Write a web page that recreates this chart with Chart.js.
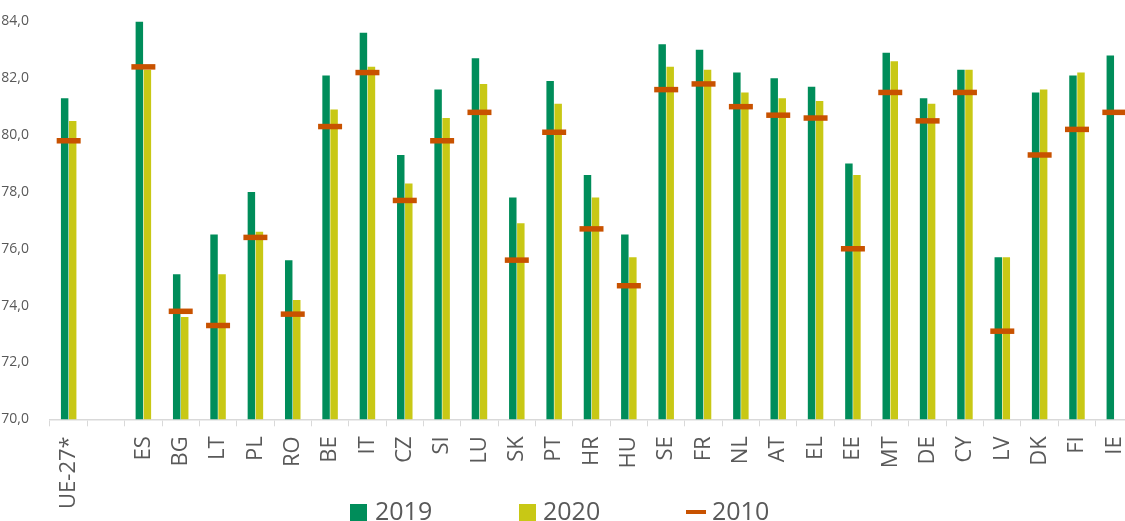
<!DOCTYPE html>
<html>
<head>
<meta charset="utf-8">
<script src="https://cdn.jsdelivr.net/npm/chart.js@4/dist/chart.umd.min.js"></script>
<style>
  html, body { margin: 0; padding: 0; background: #fff; overflow: hidden; }
  #wrap { position: relative; width: 1125px; height: 521px; overflow: hidden; }
  #c { position: absolute; left: 0; top: 0; width: 1133px; height: 521px; }
  .lg { position: absolute; top: 497.5px; font: 25px/25px "Open Sans", sans-serif; color: #595959; white-space: nowrap; }
  .sw { position: absolute; }
</style>
</head>
<body>
<div id="wrap">
  <canvas id="c" width="1133" height="521"></canvas>
  <div class="sw" id="sw2019" style="left:350px; top:504px; width:17px; height:17px;"></div>
  <div class="lg" style="left:375px;">2019</div>
  <div class="sw" id="sw2020" style="left:519px; top:504px; width:17px; height:17px;"></div>
  <div class="lg" style="left:543px;">2020</div>
  <div class="sw" id="sw2010" style="left:686px; top:510px; width:20px; height:4px;"></div>
  <div class="lg" style="left:712px;">2010</div>
</div>
<script>
// Country codes along the x axis (second slot left empty as a separator)
const categories = ['UE-27*', '', 'ES', 'BG', 'LT', 'PL', 'RO', 'BE', 'IT', 'CZ', 'SI', 'LU', 'SK', 'PT',
  'HR', 'HU', 'SE', 'FR', 'NL', 'AT', 'EL', 'EE', 'MT', 'DE', 'CY', 'LV', 'DK', 'FI', 'IE'];

const values2019 = [81.3, null, 84.0, 75.1, 76.5, 78.0, 75.6, 82.1, 83.6, 79.3, 81.6, 82.7, 77.8, 81.9,
  78.6, 76.5, 83.2, 83.0, 82.2, 82.0, 81.7, 79.0, 82.9, 81.3, 82.3, 75.7, 81.5, 82.1, 82.8];

const values2020 = [80.5, null, 82.3, 73.6, 75.1, 76.6, 74.2, 80.9, 82.4, 78.3, 80.6, 81.8, 76.9, 81.1,
  77.8, 75.7, 82.4, 82.3, 81.5, 81.3, 81.2, 78.6, 82.6, 81.1, 82.3, 75.7, 81.6, 82.2, null];

const values2010 = [79.8, null, 82.4, 73.8, 73.3, 76.4, 73.7, 80.3, 82.2, 77.7, 79.8, 80.8, 75.6, 80.1,
  76.7, 74.7, 81.6, 81.8, 81.0, 80.7, 80.6, 76.0, 81.5, 80.5, 81.5, 73.1, 79.3, 80.2, 80.8];

const yTicks = [70, 72, 74, 76, 78, 80, 82, 84];

const COLOR_2019 = '#008d5a';
const COLOR_2020 = '#c8c815';
const COLOR_2010 = '#c85200';
const TEXT = '#595959';
const AXIS = '#d9d9d9';

document.getElementById('sw2019').style.background = COLOR_2019;
document.getElementById('sw2020').style.background = COLOR_2020;
document.getElementById('sw2010').style.background = COLOR_2010;

new Chart(document.getElementById('c'), {
  type: 'bar',
  data: {
    labels: categories,
    datasets: [
      {
        label: '2019',
        data: values2019,
        backgroundColor: COLOR_2019,
        categoryPercentage: 0.43,
        barPercentage: 0.93,
        order: 2
      },
      {
        label: '2020',
        data: values2020,
        backgroundColor: COLOR_2020,
        categoryPercentage: 0.43,
        barPercentage: 0.93,
        order: 2
      },
      {
        // 2010 reference value drawn as a short horizontal dash per country
        label: '2010',
        type: 'line',
        data: values2010,
        showLine: false,
        pointStyle: 'line',
        pointRadius: 12,
        pointHoverRadius: 12,
        pointBorderWidth: 5.5,
        pointHoverBorderWidth: 5.5,
        borderColor: COLOR_2010,
        backgroundColor: COLOR_2010,
        clip: false,
        order: 0
      }
    ]
  },
  options: {
    responsive: false,
    maintainAspectRatio: false,
    animation: false,
    devicePixelRatio: 1,
    layout: { autoPadding: false, padding: { top: 20, right: 0, bottom: 0, left: 0 } },
    plugins: {
      legend: { display: false },
      tooltip: { enabled: false }
    },
    scales: {
      x: {
        offset: true,
        grid: {
          display: true,
          offset: true,
          drawOnChartArea: false,
          drawTicks: true,
          tickLength: 7,
          color: AXIS,
          lineWidth: 1
        },
        border: { display: true, color: AXIS, width: 1.5 },
        ticks: {
          autoSkip: false,
          minRotation: 90,
          maxRotation: 90,
          padding: 10,
          color: TEXT,
          font: { family: 'Open Sans', size: 22 }
        },
        afterFit: (scale) => {
          scale.height = 101.7;
          scale.paddingLeft = 0;
          scale.paddingRight = 0;
        }
      },
      y: {
        min: 70,
        max: 84,
        grid: { display: false },
        border: { display: false },
        afterBuildTicks: (scale) => { scale.ticks = yTicks.map(v => ({ value: v })); },
        ticks: {
          padding: 13,
          color: TEXT,
          font: { family: 'Open Sans', size: 14 },
          callback: (v) => v.toFixed(1).replace('.', ',')
        },
        afterFit: (scale) => { scale.width = 50; }
      }
    }
  }
});
</script>
</body>
</html>
